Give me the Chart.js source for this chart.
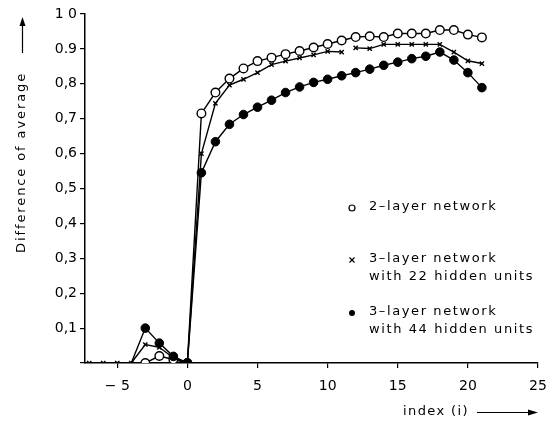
<!DOCTYPE html>
<html>
<head>
<meta charset="utf-8">
<script src="https://cdn.jsdelivr.net/npm/chart.js@4"></script>
<style>
  html, body { margin: 0; padding: 0; background: #fff; }
  #wrap { width: 557px; height: 424px; }
</style>
</head>
<body>
<div id="wrap"><canvas id="netChart" width="557" height="424"></canvas></div>
<script>
// index (i) along the x axis
const indexValues = [-7, -6, -5, -4, -3, -2, -1, 0, 1, 2, 3, 4, 5, 6, 7, 8, 9, 10, 11, 12, 13, 14, 15, 16, 17, 18, 19, 20, 21];

// difference of average
const twoLayer = [0, 0, 0, 0, 0, 0.02, 0.01, 0,
  0.715, 0.775, 0.815, 0.844, 0.865, 0.875, 0.885, 0.894, 0.904, 0.914, 0.924,
  0.934, 0.936, 0.934, 0.944, 0.944, 0.944, 0.954, 0.954, 0.941, 0.933];
const hidden22 = [0, 0, 0, 0, 0.053, 0.045, 0.015, 0,
  0.60, 0.744, 0.796, 0.813, 0.832, 0.855, 0.865, 0.874, 0.883, 0.893, 0.891,
  0.903, 0.901, 0.913, 0.913, 0.913, 0.913, 0.913, 0.891, 0.866, 0.858];
const hidden44 = [0, 0, 0, 0, 0.1, 0.057, 0.019, 0,
  0.545, 0.634, 0.684, 0.712, 0.733, 0.753, 0.775, 0.791, 0.804, 0.813, 0.823,
  0.832, 0.842, 0.853, 0.862, 0.872, 0.879, 0.891, 0.868, 0.832, 0.789];

// the 22-unit curve has a break in its line after this index
const gapAfter = 11;

// tick labels as printed
const xTicks = [-5, 0, 5, 10, 15, 20, 25];
const yLabels = ['', '0,1', '0,2', '0,3', '0,4', '0,5', '0,6', '0,7', '0,8', '0.9', '1 0'];

const legendLines = [
  ['2\u2013layer network'],
  ['3\u2013layer network', 'with 22 hidden units'],
  ['3\u2013layer network', 'with 44 hidden units']
];

const FONT = '"DejaVu Sans", sans-serif';

function toPoints(values) {
  return indexValues.map((x, i) => ({ x: x, y: values[i] }));
}

// hide circle markers that sit on the baseline at the far left
const circleRadius = ctx => (ctx.raw && ctx.raw.x < -3) ? 0 : 4.3;

// Draw legend and axis titles with arrows
const annotations = {
  id: 'annotations',
  afterDraw(chart) {
    const c = chart.ctx;
    c.save();
    c.fillStyle = '#000';
    c.strokeStyle = '#000';
    c.font = '13px ' + FONT;
    c.letterSpacing = '1.6px';
    c.textBaseline = 'middle';
    c.textAlign = 'left';

    // legend
    const mx = 352, tx = 369;
    const rows = [207, 259, 312];
    rows.forEach((y, k) => {
      legendLines[k].forEach((t, j) => c.fillText(t, tx, y + j * 18));
      c.lineWidth = 1.2;
      if (k === 0) {
        c.beginPath(); c.arc(mx, y + 1, 3, 0, Math.PI * 2); c.stroke();
      } else if (k === 1) {
        c.beginPath();
        c.moveTo(mx - 2.5, y - 1.5); c.lineTo(mx + 2.5, y + 3.5);
        c.moveTo(mx + 2.5, y - 1.5); c.lineTo(mx - 2.5, y + 3.5);
        c.stroke();
      } else {
        c.beginPath(); c.arc(mx, y + 1, 3, 0, Math.PI * 2); c.fill();
      }
    });

    // y axis title, rotated
    c.save();
    c.translate(22, 253);
    c.rotate(-Math.PI / 2);
    c.letterSpacing = '1.9px';
    c.fillText('Difference of average', 0, 0);
    c.restore();
    c.lineWidth = 1.2;
    c.beginPath(); c.moveTo(22.5, 53); c.lineTo(22.5, 24); c.stroke();
    c.beginPath(); c.moveTo(22.5, 17); c.lineTo(19.5, 26); c.lineTo(25.5, 26); c.closePath(); c.fill();

    // x axis title
    c.letterSpacing = '1.4px';
    c.fillText('index (i)', 403, 412);
    c.beginPath(); c.moveTo(477, 412.5); c.lineTo(530, 412.5); c.stroke();
    c.beginPath(); c.moveTo(538, 412.5); c.lineTo(528, 409.5); c.lineTo(528, 415.5); c.closePath(); c.fill();
    c.restore();
  }
};

const ctx = document.getElementById('netChart').getContext('2d');
const netChart = new Chart(ctx, {
  type: 'line',
  data: {
    datasets: [
      {
        label: '3-layer network with 44 hidden units',
        data: toPoints(hidden44),
        borderColor: '#000',
        borderWidth: 1.4,
        backgroundColor: '#000',
        pointStyle: 'circle',
        pointRadius: circleRadius,
        pointBorderWidth: 1,
        tension: 0
      },
      {
        label: '3-layer network with 22 hidden units',
        data: toPoints(hidden22),
        borderColor: '#000',
        borderWidth: 1.4,
        backgroundColor: '#000',
        pointStyle: 'crossRot',
        pointRadius: 3,
        pointBorderWidth: 1.4,
        tension: 0,
        segment: {
          borderColor: c => c.p0.parsed.x === gapAfter ? 'rgba(0,0,0,0)' : undefined
        }
      },
      {
        label: '2-layer network',
        data: toPoints(twoLayer),
        borderColor: '#000',
        borderWidth: 1.4,
        backgroundColor: '#fff',
        pointStyle: 'circle',
        pointRadius: circleRadius,
        pointBorderWidth: 1.4,
        tension: 0
      }
    ]
  },
  options: {
    responsive: false,
    animation: false,
    layout: { padding: { top: 14, right: 19, left: 0, bottom: 0 } },
    plugins: {
      legend: { display: false },
      tooltip: { enabled: false }
    },
    scales: {
      x: {
        type: 'linear',
        min: -7.3,
        max: 25,
        afterBuildTicks: s => { s.ticks = xTicks.map(v => ({ value: v })); },
        afterFit: s => { s.height = 61; },
        grid: { drawOnChartArea: false, drawTicks: true, tickLength: 5, color: '#000', lineWidth: 1.2 },
        border: { display: true, color: '#000', width: 1.5 },
        ticks: {
          color: '#000',
          font: { family: FONT, size: 14 },
          padding: 10,
          maxRotation: 0,
          autoSkip: false,
          callback: v => v < 0 ? '\u2212 ' + Math.abs(v) : String(v)
        }
      },
      y: {
        min: 0,
        max: 1,
        afterFit: s => { s.width = 85; },
        grid: { drawOnChartArea: false, drawTicks: true, tickLength: 5, color: '#000', lineWidth: 1.2 },
        border: { display: true, color: '#000', width: 1.5 },
        ticks: {
          stepSize: 0.1,
          color: '#000',
          font: { family: FONT, size: 14 },
          padding: 3,
          callback: (v, i) => yLabels[i]
        }
      }
    }
  },
  plugins: [annotations]
});
</script>
</body>
</html>
